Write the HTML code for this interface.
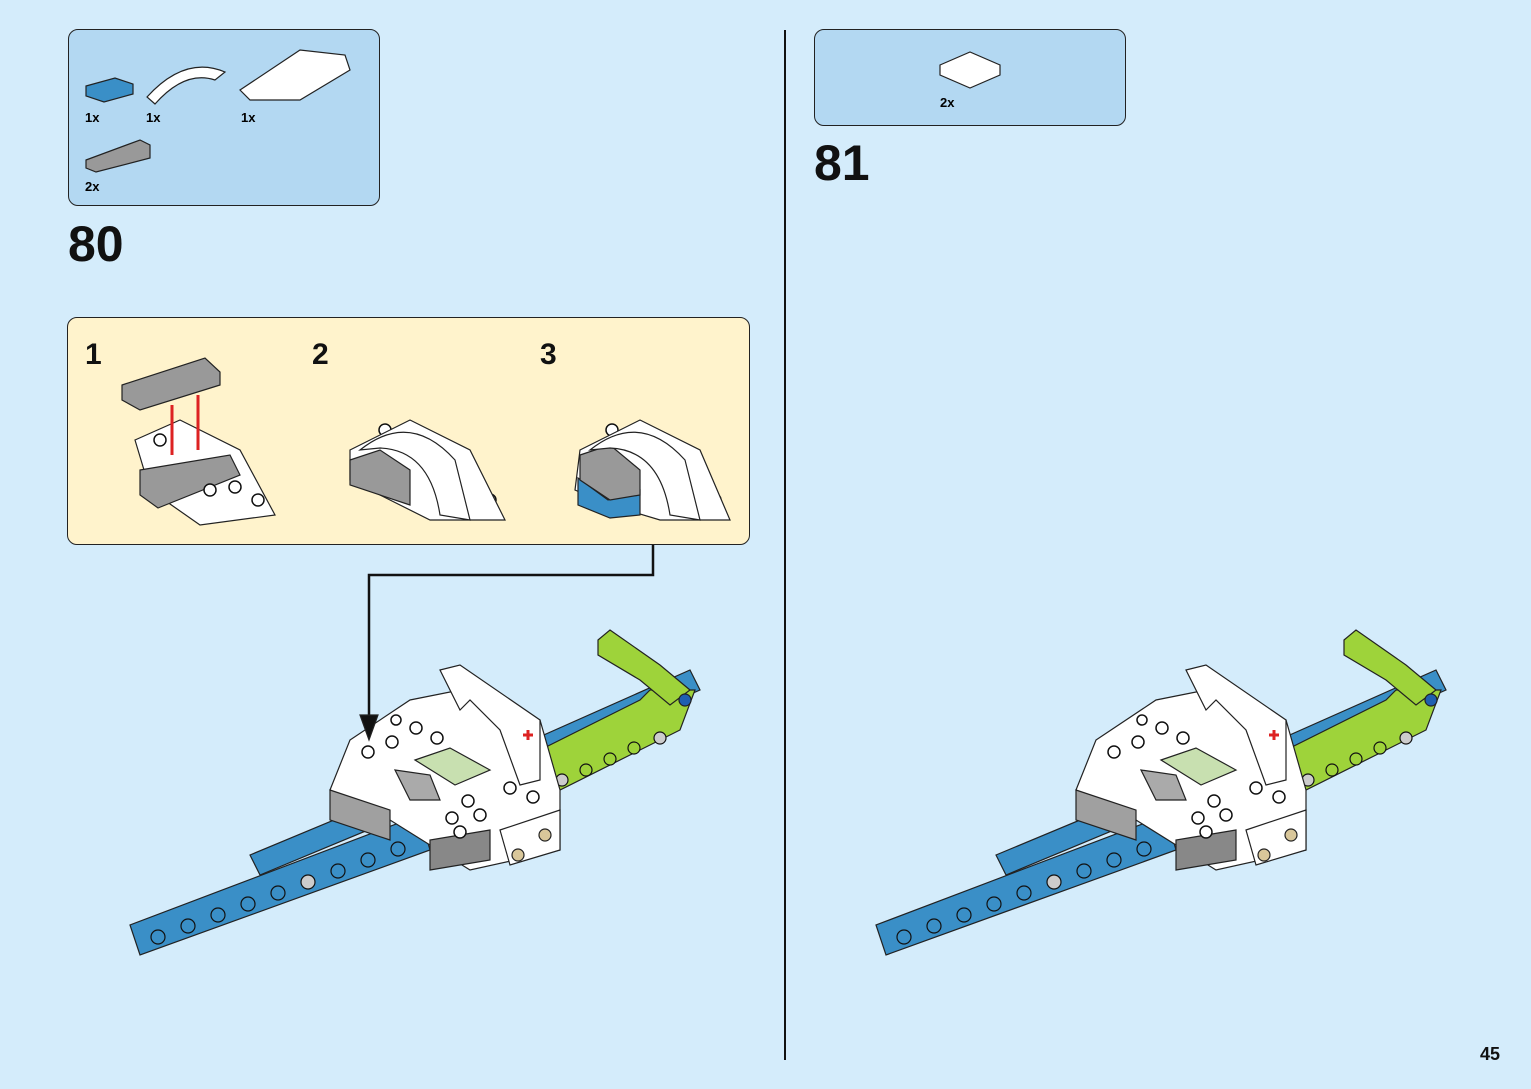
<!DOCTYPE html>
<html><head><meta charset="utf-8"><style>
html,body{margin:0;padding:0}
body{width:1531px;height:1089px;background:#d4ecfb;position:relative;overflow:hidden;font-family:"Liberation Sans",sans-serif}
.box{position:absolute;border:1.5px solid #222;border-radius:10px}
.num{position:absolute;font-weight:bold;color:#111}
.q{position:absolute;font-size:13px;font-weight:bold}
</style></head><body>
<div class="box" style="left:68px;top:29px;width:310px;height:175px;background:#b3d8f2"></div>
<div class="q" style="left:85px;top:110px">1x</div>
<div class="q" style="left:146px;top:110px">1x</div>
<div class="q" style="left:241px;top:110px">1x</div>
<div class="q" style="left:85px;top:179px">2x</div>
<div class="num" style="left:68px;top:215px;font-size:50px">80</div>
<div class="box" style="left:814px;top:29px;width:310px;height:95px;background:#b3d8f2"></div>
<div class="q" style="left:940px;top:95px">2x</div>
<div class="num" style="left:814px;top:134px;font-size:50px">81</div>
<div style="position:absolute;left:784px;top:30px;width:2px;height:1030px;background:#111"></div>
<div class="box" style="left:67px;top:317px;width:681px;height:226px;background:#fff3cc"></div>
<div class="num" style="left:85px;top:338px;font-size:30px">1</div>
<div class="num" style="left:312px;top:338px;font-size:30px">2</div>
<div class="num" style="left:540px;top:338px;font-size:30px">3</div>
<div class="num" style="left:1480px;top:1044px;font-size:18px">45</div>
<svg width="1531" height="1089" style="position:absolute;left:0;top:0" stroke="#222" stroke-width="1.2">
<defs>
<g id="m">
<polygon points="250,855 260,875 440,800 430,780" fill="#3a8fc7"/>
<polygon points="420,790 430,810 700,690 690,670" fill="#3a8fc7"/>
<polygon points="130,925 140,955 430,850 420,815" fill="#3a8fc7"/>
<g fill="#3a8fc7" stroke="#111">
<circle cx="158" cy="937" r="7"/><circle cx="188" cy="926" r="7"/><circle cx="218" cy="915" r="7"/><circle cx="248" cy="904" r="7"/><circle cx="278" cy="893" r="7"/><circle cx="308" cy="882" r="7" fill="#ccc"/><circle cx="338" cy="871" r="7"/><circle cx="368" cy="860" r="7"/><circle cx="398" cy="849" r="7"/>
</g>
<polygon points="540,770 550,795 680,730 695,690 650,690 640,700 540,750" fill="#9ed33a"/>
<g fill="#9ed33a" stroke="#111">
<circle cx="562" cy="780" r="6" fill="#ccc"/><circle cx="586" cy="770" r="6"/><circle cx="610" cy="759" r="6"/><circle cx="634" cy="748" r="6"/><circle cx="660" cy="738" r="6" fill="#ccc"/>
</g>
<polygon points="598,640 610,630 660,665 690,690 670,705 640,680 598,655" fill="#9ed33a"/>
<polygon points="330,790 390,820 470,870 560,850 560,790 540,720 460,690 410,700 350,740" fill="#fff"/>
<polygon points="330,790 330,820 390,840 390,810" fill="#a0a0a0"/>
<polygon points="430,840 430,870 490,860 490,830" fill="#888"/>
<polygon points="440,670 460,665 540,720 540,780 520,785 500,730 470,700 460,710" fill="#fff"/>
<polygon points="415,760 450,748 490,770 455,785" fill="#c8e0b0"/>
<polygon points="395,770 430,775 440,800 410,800" fill="#aaa"/>
<polygon points="500,830 560,810 560,850 510,865" fill="#fff"/>
<g fill="#fff" stroke="#111" stroke-width="1.5">
<circle cx="368" cy="752" r="6"/><circle cx="392" cy="742" r="6"/><circle cx="416" cy="728" r="6"/><circle cx="437" cy="738" r="6"/><circle cx="396" cy="720" r="5"/>
<circle cx="510" cy="788" r="6"/><circle cx="533" cy="797" r="6"/><circle cx="468" cy="801" r="6"/><circle cx="480" cy="815" r="6"/><circle cx="452" cy="818" r="6"/><circle cx="460" cy="832" r="6"/>
</g>
<circle cx="518" cy="855" r="6" fill="#d9c79a"/><circle cx="545" cy="835" r="6" fill="#d9c79a"/>
<circle cx="685" cy="700" r="6" fill="#1f5fb0"/>
<path d="M523 735h10M528 730v10" stroke="#d22" stroke-width="3"/>
</g>
</defs>
<use href="#m"/>
<use href="#m" transform="translate(746,0)"/>
<polyline points="653,545 653,575 369,575 369,715" fill="none" stroke="#111" stroke-width="2.5"/>
<polygon points="360,715 378,715 369,740" fill="#111"/>
<polygon points="135,440 180,420 240,450 275,515 200,525 150,490" fill="#fff"/>
<polygon points="122,385 205,358 220,372 220,385 140,410 122,400" fill="#999"/>
<polygon points="140,470 230,455 240,475 158,508 140,495" fill="#999"/>
<path d="M172 405v50M198 395v55" stroke="#d22" stroke-width="3"/>
<g fill="#fff" stroke="#111" stroke-width="1.5">
<circle cx="160" cy="440" r="6"/><circle cx="210" cy="490" r="6"/><circle cx="235" cy="487" r="6"/><circle cx="258" cy="500" r="6"/>
<circle cx="465" cy="488" r="6"/><circle cx="490" cy="500" r="6"/><circle cx="385" cy="430" r="6"/>
<circle cx="690" cy="488" r="6"/><circle cx="715" cy="500" r="6"/><circle cx="612" cy="430" r="6"/>
</g>
<polygon points="350,450 410,420 470,450 505,520 430,520 380,495 350,480" fill="#fff"/>
<polygon points="350,460 380,450 410,470 410,505 350,485" fill="#999"/>
<path d="M360 450 Q410 410 455 460 L470 520 L440 515 Q430 450 380 448Z" fill="#fff"/>
<polygon points="580,450 640,420 700,450 730,520 660,520 610,505 575,490" fill="#fff"/>
<polygon points="578,478 608,500 640,490 640,515 610,518 578,505" fill="#3a8fc7"/>
<polygon points="580,455 610,445 640,470 640,495 610,500 580,480" fill="#999"/>
<path d="M590 450 Q640 410 685 460 L700 520 L670 515 Q660 450 610 448Z" fill="#fff"/>
<polygon points="86,86 115,78 133,84 133,94 104,102 86,96" fill="#3a8fc7"/>
<path d="M147 97 Q185 55 225 72 L215 80 Q185 70 155 104Z" fill="#fff"/>
<polygon points="240,90 300,50 345,55 350,70 300,100 250,100" fill="#fff"/>
<polygon points="86,160 140,140 150,145 150,158 96,172 86,168" fill="#999"/>
<polygon points="940,65 970,52 1000,65 1000,75 970,88 940,75" fill="#fff"/>
</svg>
</body></html>
